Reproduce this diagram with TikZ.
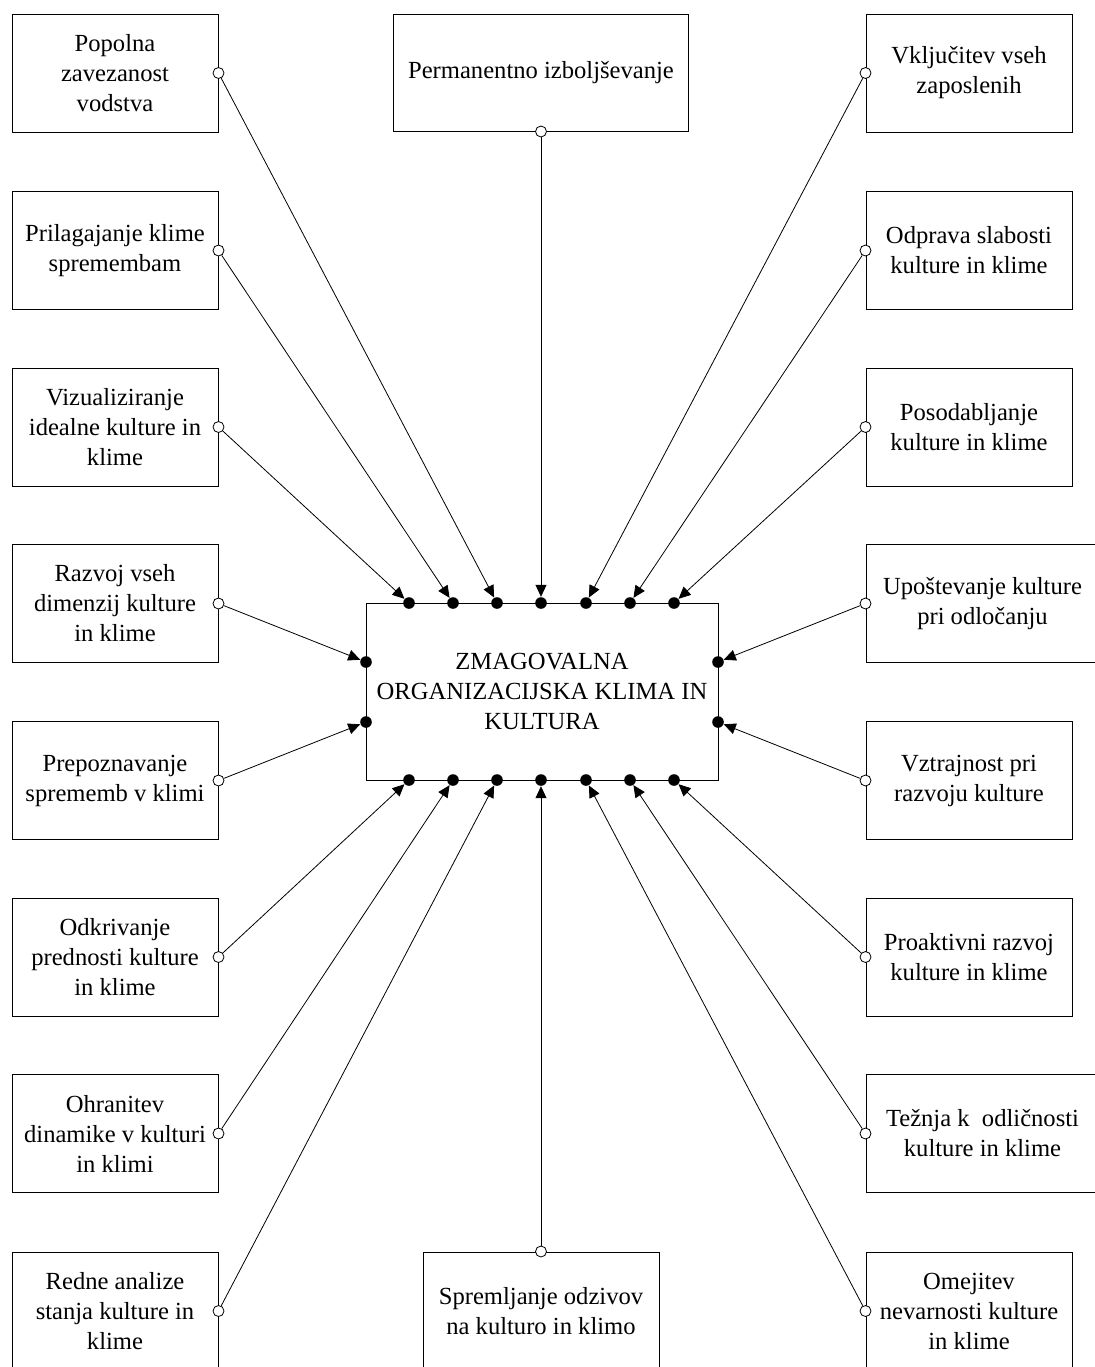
\documentclass[tikz,border=0pt]{standalone}
\usepackage{fontspec}
\setmainfont{Liberation Serif}
\usetikzlibrary{arrows.meta}

\tikzset{
    box/.style={draw, line width=0.5pt, inner sep=0pt, align=center,
        minimum width=103pt, minimum height=59pt, font=\fontsize{12.3}{15}\selectfont},
    opendot/.style={circle, draw, line width=0.4pt, fill=white, inner sep=0pt, minimum size=5.5pt},
    fulldot/.style={circle, fill=black, inner sep=0pt, minimum size=5.8pt},
    link/.style={line width=0.4pt, -{Triangle[length=6pt,width=5.5pt]}},
}

\begin{document}
\begin{tikzpicture}[x=0.5pt, y=-0.5pt]
        \useasboundingbox (0,0) rectangle (1095,1367);
        % central box
        \node[box, minimum width=176pt, minimum height=88.5pt] (zk) at (542,691.5)
            {ZMAGOVALNA\\ORGANIZACIJSKA KLIMA IN\\KULTURA};
        % left column
        \node[box] (L1) at (115,73) {Popolna\\zavezanost\\vodstva};
        \node[box] (L2) at (115,250.5) {Prilagajanje klime\\spremembam};
        \node[box] (L3) at (115,427) {Vizualiziranje\\idealne kulture in\\klime};
        \node[box] (L4) at (115,603.5) {Razvoj vseh\\dimenzij kulture\\in klime};
        \node[box] (L5) at (115,780.5) {Prepoznavanje\\sprememb v klimi};
        \node[box] (L6) at (115,957) {Odkrivanje\\prednosti kulture\\in klime};
        \node[box] (L7) at (115,1133.5) {Ohranitev\\dinamike v kulturi\\in klimi};
        \node[box] (L8) at (115,1311) {Redne analize\\stanja kulture in\\klime};
        % right column
        \node[box] (R1) at (969,73) {Vključitev vseh\\zaposlenih};
        \node[box] (R2) at (969,250.5) {Odprava slabosti\\kulture in klime};
        \node[box] (R3) at (969,427) {Posodabljanje\\kulture in klime};
        \node[box, minimum width=116.5pt] (R4) at (982.5,603.5) {Upoštevanje kulture\\pri odločanju};
        \node[box] (R5) at (969,780.5) {Vztrajnost pri\\razvoju kulture};
        \node[box] (R6) at (969,957) {Proaktivni razvoj\\kulture in klime};
        \node[box, minimum width=116.5pt] (R7) at (982.5,1133.5) {Težnja k\ \ odličnosti\\kulture in klime};
        \node[box] (R8) at (969,1311) {Omejitev\\nevarnosti kulture\\in klime};
        % top and bottom
        \node[box, minimum width=147.5pt, minimum height=58.5pt] (T) at (541,72.5) {Permanentno izboljševanje};
        \node[box, minimum width=118pt] (B) at (541,1311) {Spremljanje odzivov\\na kulturo in klimo};

        % open dots on the boxes
        \foreach \n in {1,...,8} {
            \node[opendot] (oL\n) at (L\n.east) {};
            \node[opendot] (oR\n) at (R\n.west) {};
        }
        \node[opendot] (oT) at (T.south) {};
        \node[opendot] (oB) at (B.north) {};

        % full dots on the central box
        \foreach \i/\x in {1/409, 2/453, 3/497, 4/541, 5/586, 6/630, 7/674} {
            \node[fulldot] (t\i) at (\x,603) {};
            \node[fulldot] (u\i) at (\x,780) {};
        }
        \node[fulldot] (l1) at (366,662) {};
        \node[fulldot] (l2) at (366,722) {};
        \node[fulldot] (r1) at (718,662) {};
        \node[fulldot] (r2) at (718,722) {};

        % connectors
        \draw[link] (oL3) -- (t1);
        \draw[link] (oL2) -- (t2);
        \draw[link] (oL1) -- (t3);
        \draw[link] (oT) -- (t4);
        \draw[link] (oR1) -- (t5);
        \draw[link] (oR2) -- (t6);
        \draw[link] (oR3) -- (t7);
        \draw[link] (oL4) -- (l1);
        \draw[link] (oL5) -- (l2);
        \draw[link] (oR4) -- (r1);
        \draw[link] (oR5) -- (r2);
        \draw[link] (oL6) -- (u1);
        \draw[link] (oL7) -- (u2);
        \draw[link] (oL8) -- (u3);
        \draw[link] (oB) -- (u4);
        \draw[link] (oR8) -- (u5);
        \draw[link] (oR7) -- (u6);
        \draw[link] (oR6) -- (u7);
    \end{tikzpicture}
\end{document}
